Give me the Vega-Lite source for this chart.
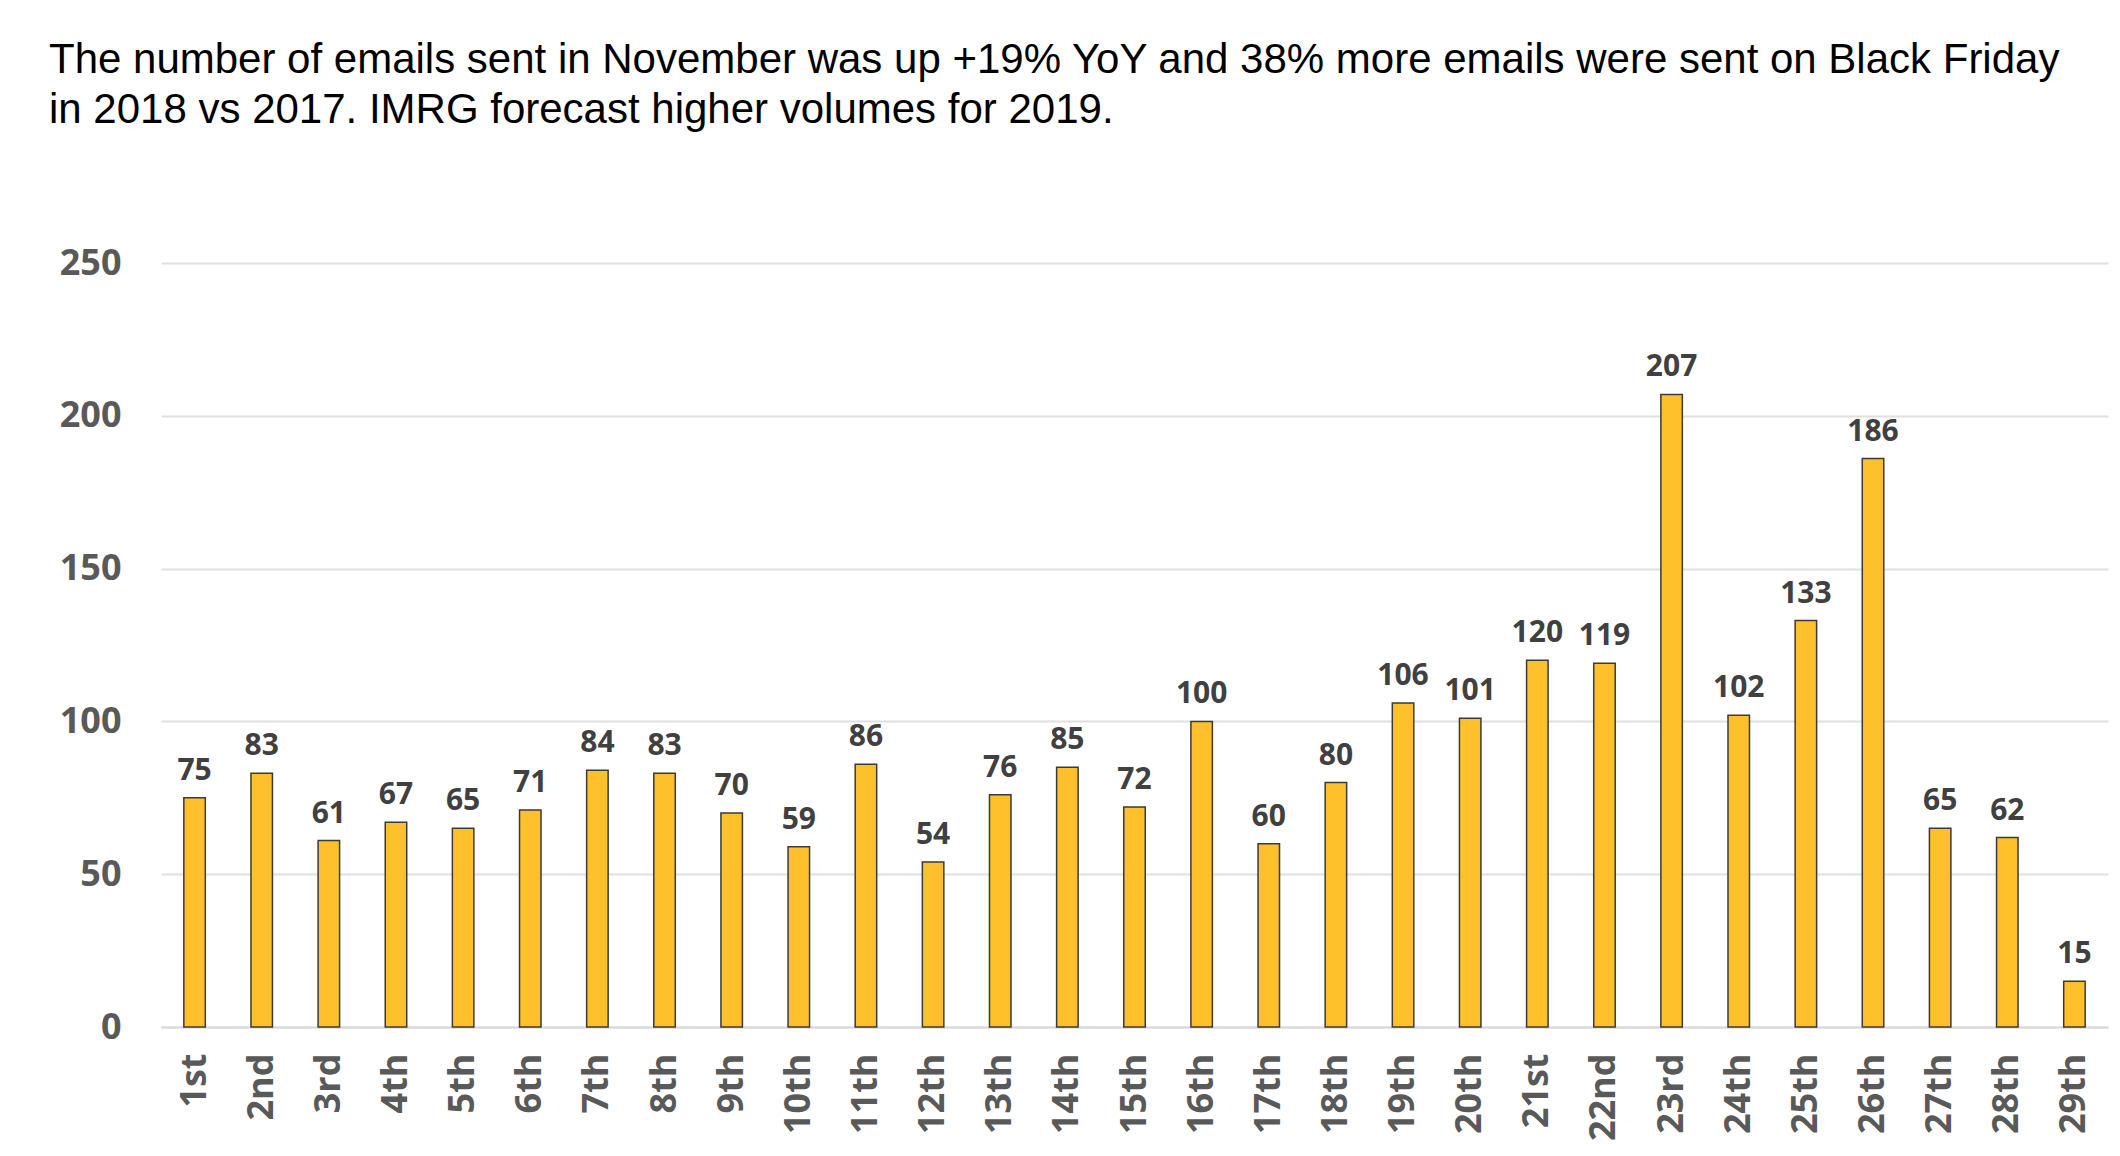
{
  "$schema": "https://vega.github.io/schema/vega-lite/v6.json",
  "width": 1947,
  "height": 764,
  "autosize": {"type": "none"},
  "padding": {"left": 161, "top": 263, "right": 12, "bottom": 129},
  "background": "white",
  "title": {
    "text": ["The number of emails sent in November was up +19% YoY and 38% more emails were sent on Black Friday", "in 2018 vs 2017. IMRG forecast higher volumes for 2019."],
    "anchor": "start",
    "frame": "group",
    "dx": -112,
    "offset": 113,
    "font": "Liberation Sans",
    "fontSize": 42,
    "fontWeight": "normal",
    "color": "#000000",
    "lineHeight": 50
  },
  "data": {
    "values": [
      {"day": "1st", "emails": 75},
      {"day": "2nd", "emails": 83},
      {"day": "3rd", "emails": 61},
      {"day": "4th", "emails": 67},
      {"day": "5th", "emails": 65},
      {"day": "6th", "emails": 71},
      {"day": "7th", "emails": 84},
      {"day": "8th", "emails": 83},
      {"day": "9th", "emails": 70},
      {"day": "10th", "emails": 59},
      {"day": "11th", "emails": 86},
      {"day": "12th", "emails": 54},
      {"day": "13th", "emails": 76},
      {"day": "14th", "emails": 85},
      {"day": "15th", "emails": 72},
      {"day": "16th", "emails": 100},
      {"day": "17th", "emails": 60},
      {"day": "18th", "emails": 80},
      {"day": "19th", "emails": 106},
      {"day": "20th", "emails": 101},
      {"day": "21st", "emails": 120},
      {"day": "22nd", "emails": 119},
      {"day": "23rd", "emails": 207},
      {"day": "24th", "emails": 102},
      {"day": "25th", "emails": 133},
      {"day": "26th", "emails": 186},
      {"day": "27th", "emails": 65},
      {"day": "28th", "emails": 62},
      {"day": "29th", "emails": 15}
    ]
  },
  "encoding": {
    "x": {
      "field": "day",
      "type": "nominal",
      "sort": null,
      "scale": {"paddingInner": 0.68, "paddingOuter": 0.34},
      "axis": {
        "title": null,
        "labelAngle": -90,
        "labelFont": "Open Sans",
        "labelFontSize": 36,
        "labelFontWeight": "bold",
        "labelColor": "#595959",
        "labelPadding": 26,
        "ticks": false,
        "domainColor": "#d9d9d9",
        "domainWidth": 2,
        "labelAlign": "right",
        "labelBaseline": "middle"
      }
    },
    "y": {
      "field": "emails",
      "type": "quantitative",
      "scale": {"domain": [0, 250]},
      "axis": {
        "title": null,
        "values": [0, 50, 100, 150, 200, 250],
        "labelFont": "Open Sans",
        "labelFontSize": 36,
        "labelFontWeight": "bold",
        "labelColor": "#595959",
        "labelPadding": 40,
        "ticks": false,
        "domain": false,
        "gridColor": "#e0e0e0",
        "gridWidth": 2
      }
    }
  },
  "layer": [
    {
      "mark": {"type": "bar", "color": "#FFC12B", "stroke": "#3a3a3a", "strokeWidth": 1.5}
    },
    {
      "mark": {"type": "text", "baseline": "bottom", "dy": -12, "font": "Open Sans", "fontSize": 30, "fontWeight": "bold", "color": "#404040"},
      "encoding": {"text": {"field": "emails", "type": "quantitative"}}
    }
  ],
  "config": {"view": {"stroke": null}}
}
